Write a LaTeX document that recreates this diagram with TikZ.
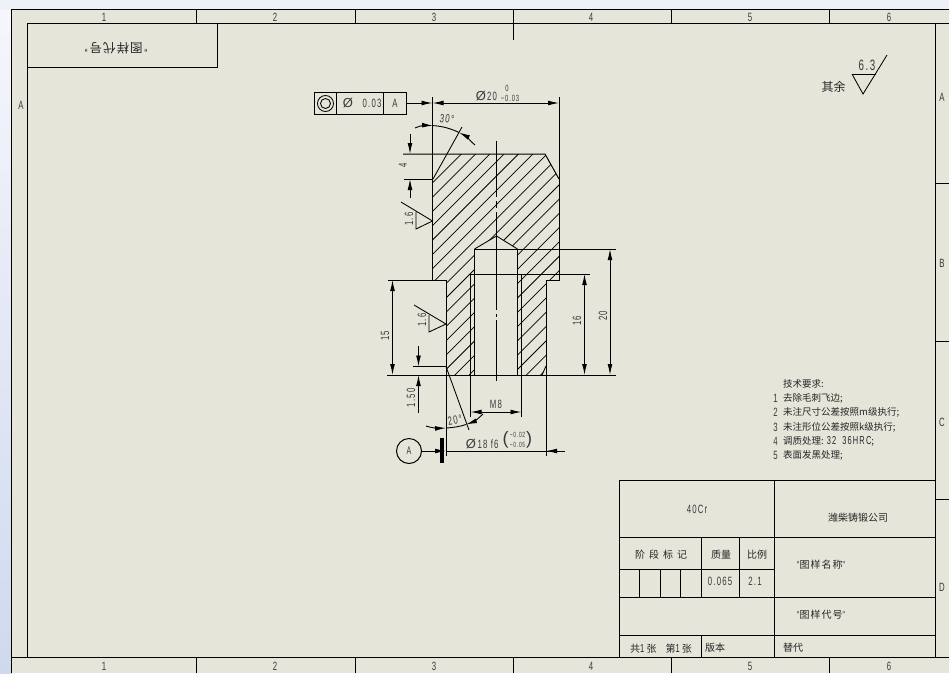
\documentclass[tikz,border=0pt]{standalone}
\usepackage{fontspec}
\setmainfont{Noto Sans CJK SC}
\newfontfamily\narrow[FakeStretch=0.65,LetterSpace=10]{Liberation Sans}
\newfontfamily\plainlat{Liberation Sans}
\usetikzlibrary{arrows.meta,calc}
\definecolor{sheet}{HTML}{E5E5DA}
\definecolor{txt}{HTML}{3A3A3A}
\definecolor{edgetop}{HTML}{F6F6FC}
\definecolor{edgelow}{HTML}{CFD9EE}
\definecolor{striptop}{HTML}{EEF1F8}
\tikzset{
  ln/.style={line width=1pt,black},
  thin ln/.style={line width=0.85pt,black},
  dim/.style={line width=0.9pt,black,{Latex[length=11pt,width=4.8pt]}-{Latex[length=11pt,width=4.8pt]}},
  tip/.style={line width=0.9pt,black,-{Latex[length=11pt,width=4.8pt]}},
  lab/.style={inner sep=0pt,text=txt,font=\narrow\fontsize{12}{12}\selectfont},
  tiny/.style={inner sep=0pt,text=txt,font=\narrow\fontsize{9}{9}\selectfont},
  tol/.style={inner sep=0pt,text=txt,font=\narrow\fontsize{7.5}{7.5}\selectfont},
  phi/.style={inner sep=0pt,text=txt,font=\plainlat\fontsize{13}{13}\selectfont},
  cjk/.style={inner sep=0pt,text=black!85,font=\fontsize{10}{10}\selectfont},
  req/.style={cjk,anchor=west,font=\fontsize{9.5}{9.5}\selectfont},
}
\newcommand{\qm}{{\narrow"}}
\newcommand{\rn}[1]{{\narrow\fontsize{11.5}{11.5}\selectfont #1}}
\begin{document}
\begin{tikzpicture}[x=1pt,y=-1pt]
\useasboundingbox (0,0) rectangle (949,673);
% backdrop
\fill[striptop] (0,0) rectangle (949,10);
\shade[top color=edgetop,bottom color=edgelow] (0,10) rectangle (12,673);
\fill[sheet] (12,10) rectangle (949,673);
% sheet frame
\draw[ln] (949,9.5) -- (11.5,9.5) -- (11.5,673);
\draw[ln] (12,657) -- (949,657);
\draw[ln] (27,23) rectangle (935,657);
\draw[ln] (27,23) -- (949,23);
\foreach \x in {196,355,513,671,829}{
  \draw[ln] (\x,10) -- (\x,23);
  \draw[ln] (\x,657) -- (\x,673);
}
\draw[ln] (513.5,23) -- (513.5,40);
\foreach \y in {183,341,499}{\draw[ln] (935,\y) -- (949,\y);}
\foreach \x/\t in {104/1,275/2,434/3,591/4,750/5,889/6}{
  \node[lab] (zt\t) at (\x,17) {\t};
  \node[lab] (zb\t) at (\x,666) {\t};
}
\node[lab] (zla) at (21,105) {A};
\foreach \y/\t in {97/A,263/B,422/C,587/D}{\node[lab] (zr\t) at (942,\y) {\t};}
% upside-down box
\draw[ln] (27,23) rectangle (217.5,67.5);
\node[cjk,rotate=180,font=\fontsize{12.5}{12.5}\selectfont] (flip) at (116,48) {\qm\hspace{2pt}图\hspace{1pt}样\hspace{1pt}代\hspace{1pt}号\hspace{2pt}\qm};
% hatching
\begin{scope}
\clip (433,179) -- (447,154) -- (545,154) -- (559,179) -- (559,280) -- (546,280) -- (546,366) -- (542,375)
 -- (517.5,375) -- (517.5,249) -- (496.5,236) -- (474.5,249) -- (474.5,375) -- (450,375) -- (446,366) -- (446,280) -- (433,280) -- cycle;
\foreach \c in {0,...,21}{
  \draw[line width=0.75pt] (300,{315.3+14.3*\c}) -- (600,{15.3+14.3*\c});
}
\end{scope}
% part outline
\draw[ln] (403,154) -- (545,154) -- (559,179);
\draw[thin ln] (433,179) -- (462,127);
\draw[ln] (432.5,97) -- (432.5,280);
\draw[ln] (559,97) -- (559,280) -- (546,280) -- (546,456);
\draw[ln] (388,280) -- (446,280);
\draw[ln] (446,280) -- (446,456);
\draw[ln] (387,375) -- (616,375);
\draw[ln] (413,366.5) -- (446,366.5);
\draw[thin ln] (446,366.5) -- (469,430);
\draw[thin ln] (546,366) -- (542,375);
% hole
\draw[ln] (474.5,375) -- (474.5,249);
\draw[thin ln] (474.5,249) -- (496.5,236) -- (517.5,249);
\draw[ln] (517.5,249) -- (517.5,375);
\draw[ln] (474.5,249) -- (616,249);
\draw[ln] (470.5,417) -- (470.5,274) -- (590,274);
\draw[ln] (521.5,417) -- (521.5,274);
% centre line
\draw[ln] (496.5,141) -- (496.5,197) (496.5,201) -- (496.5,208) (496.5,212) -- (496.5,310) (496.5,314) -- (496.5,317) (496.5,320) -- (496.5,381);
% dimensions
\draw[dim] (432.5,103) -- (559,103);
\node[phi] (d20p) at (481,96) {Ø};
\node[lab] (d20) at (492,96) {20};
\node[tiny] (d20a) at (507,88) {0};
\node[tiny] (d20b) at (510,98) {−0.03};
\draw[tip] (410,134) -- (410,154);
\draw[tip] (410,198) -- (410,179);
\draw[thin ln] (404,179) -- (433,179);
\node[lab,rotate=90] (d4) at (403,165) {4};
\draw[dim] (392.5,280) -- (392.5,375);
\node[lab,rotate=90] (d15) at (385,336) {15};
\draw[dim] (584.5,274) -- (584.5,375);
\node[lab,rotate=90] (d16) at (577,321) {16};
\draw[dim] (610,249) -- (610,375);
\node[lab,rotate=90] (d20v) at (603,316) {20};
\draw[tip] (418.5,346) -- (418.5,366.5);
\draw[tip] (418.5,413) -- (418.5,375);
\node[lab,rotate=90] (d150) at (411,398) {1.50};
\draw[dim] (470.5,412) -- (521.5,412);
\node[lab] (m8) at (496,404) {M8};
% angle arcs
\draw[tip] (415,128) .. controls (420,125.5) and (426,125.3) .. (433,125.6);
\draw[tip] (475,145) .. controls (470,141) and (466,136) .. (459,132.5);
\draw[line width=0.9pt] (433,125.6) .. controls (442,126) and (452,129) .. (459,132.5);
\node[lab,rotate=-8] (a30) at (447,119) {30°};
\draw[tip] (426,426) .. controls (432,428) and (438,428.3) .. (446,428);
\draw[tip] (483,414) .. controls (478,419) and (473,422) .. (466,424.5);
\draw[line width=0.9pt] (446,428) .. controls (454,427.5) and (460,426.5) .. (466,424.5);
\node[lab,rotate=10] (a20) at (455,420) {20°};
% shaft dim and datum
\node[draw,ln,circle,minimum size=25pt,inner sep=0pt,font=\narrow\fontsize{11}{11}\selectfont,text=txt] (datum) at (409,451) {A};
\draw[line width=4pt] (442,438) -- (442,463);
\draw[tip] (datum) -- (446,451);
\draw[line width=0.9pt] (446,451) -- (565,451);
\draw[tip] (565,451) -- (546,451);
\node[phi] (d18a) at (471,444) {Ø};
\node[lab] (d18b) at (488,444) {18 f6};
\node[lab,font=\plainlat\fontsize{18}{18}\selectfont] (d18l) at (505.5,439.5) {(};
\node[lab,font=\plainlat\fontsize{18}{18}\selectfont] (d18r) at (529,439.5) {)};
\node[tol] (d18t) at (517.5,435) {−0.02};
\node[tol] (d18u) at (517.5,445) {−0.05};
% roughness
\draw[thin ln] (401,202) -- (432.5,221) -- (416,229) -- (416,212);
\node[lab,rotate=90] (r1) at (409,219) {1.6};
\draw[thin ln] (414,305) -- (446,324) -- (429,332) -- (429,315);
\node[lab,rotate=90] (r2) at (422,320) {1.6};
\draw[thin ln] (852,74) -- (876,74);
\draw[thin ln] (852,74) -- (863,94) -- (887,55);
\node[lab,font=\narrow\fontsize{15}{15}\selectfont] (r3) at (867,65) {6.3};
\node[cjk,font=\fontsize{12}{12}\selectfont] (rest) at (833.5,87) {其余};
% feature control frame
\draw[ln] (314,92.5) rectangle (406.5,114.5);
\draw[ln] (336.5,92.5) -- (336.5,114.5) (383.5,92.5) -- (383.5,114.5);
\draw[thin ln] (325.5,103.5) circle (8) (325.5,103.5) circle (5);
\node[phi] (fs) at (348,103.5) {Ø};
\node[lab] (fv) at (372,103.5) {0.03};
\node[lab] (fa) at (395,103.5) {A};
\draw[tip] (406.5,103) -- (432.5,103);
% technical requirements
\node[req] (t0) at (783,384) {技术要求:};
\foreach \y/\n in {398/1,412.5/2,427/3,441/4,455/5}{\node[lab] (tn\n) at (775.5,\y) {\n};}
\node[req] (t1) at (783,398) {去除毛刺飞边;};
\node[req] (t2) at (783,412.5) {未注尺寸公差按照m级执行;};
\node[req] (t3) at (783,427) {未注形位公差按照k级执行;};
\node[req] (t4) at (783,441) {调质处理:\hspace{3pt}\rn{32\hspace{6pt}36HRC};};
\node[req] (t5) at (783,455) {表面发黑处理;};
% title block
\draw[ln] (619.5,657) -- (619.5,480.5) -- (935,480.5);
\draw[ln] (774,480.5) -- (774,657);
\draw[ln] (619.5,537.5) -- (935,537.5);
\draw[ln] (619.5,569) -- (774,569);
\draw[ln] (619.5,597) -- (935,597);
\draw[ln] (619.5,635.5) -- (935,635.5);
\draw[ln] (701,537.5) -- (701,597) (701,635.5) -- (701,657);
\draw[ln] (739.5,537.5) -- (739.5,597);
\draw[ln] (639.5,569) -- (639.5,597) (660.5,569) -- (660.5,597) (680.5,569) -- (680.5,597);
\node[lab] (b1) at (697,509) {40Cr};
\node[cjk] (b2) at (858,518) {潍柴铸锻公司};
\node[cjk] (b3) at (661,555) {阶\hspace{4pt}段\hspace{4pt}标\hspace{4pt}记};
\node[cjk] (b4) at (721,555) {质量};
\node[cjk] (b5) at (757,555) {比例};
\node[lab] (b6) at (720,581) {0.065};
\node[lab] (b7) at (755,581) {2.1};
\node[cjk] (b8) at (821,565) {\qm 图\hspace{1pt}样\hspace{1pt}名\hspace{1pt}称\qm};
\node[cjk] (b9) at (821,615) {\qm 图\hspace{1pt}样\hspace{1pt}代\hspace{1pt}号\qm};
\node[cjk] (b10) at (661,649) {共\rn{1} 张\hspace{9pt}第\rn{1} 张};
\node[cjk] (b11) at (715,648) {版本};
\node[cjk] (b12) at (793,648) {替代};
\end{tikzpicture}
\end{document}
